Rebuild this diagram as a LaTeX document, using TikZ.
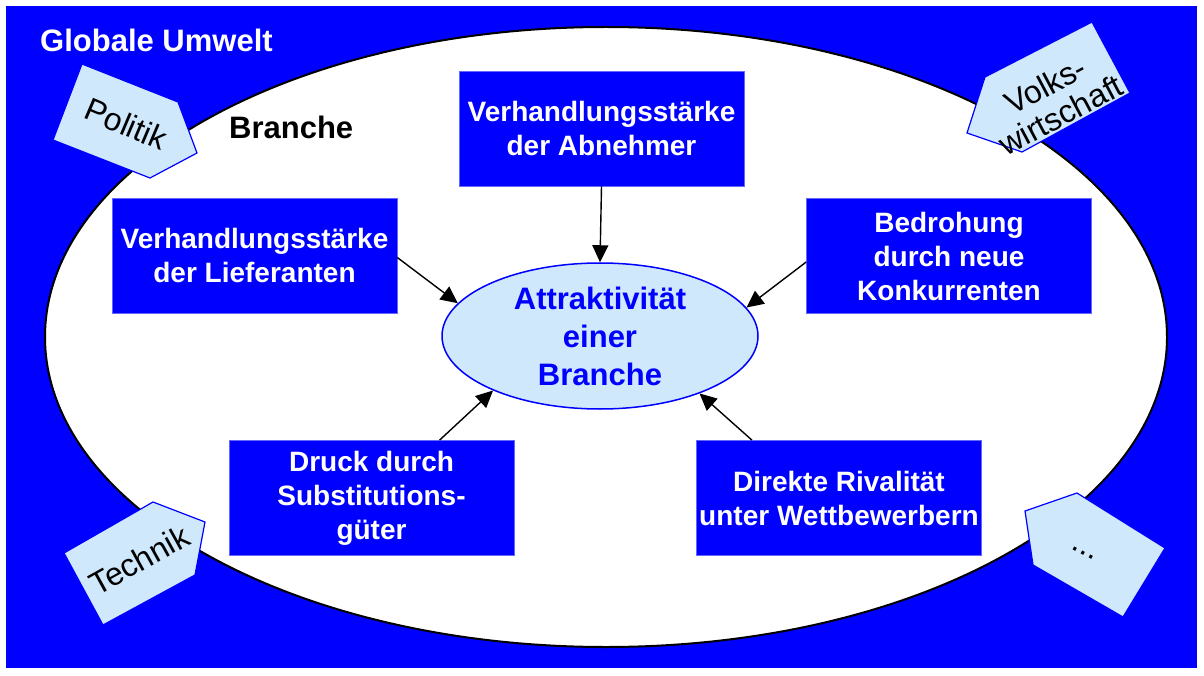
\documentclass[tikz,border=0pt]{standalone}
\usepackage{fontspec}
\setmainfont{Liberation Sans}
\usetikzlibrary{shapes.geometric,arrows.meta}

\definecolor{UmweltBlue}{RGB}{0,0,255}
\definecolor{PaleBlue}{RGB}{208,232,252}

\begin{document}
\begin{tikzpicture}[x=1pt,y=-1pt,
    force/.style={rectangle,fill=UmweltBlue,draw=UmweltBlue!60!white,line width=0.6pt,
      minimum width=285,minimum height=115,inner sep=2pt,align=center,
      text=white,font=\bfseries\fontsize{28}{34}\selectfont},
    tag/.style={fill=PaleBlue,draw=UmweltBlue,line width=1.2pt,line join=miter},
    tagtext/.style={align=center,inner sep=0pt,font=\fontsize{32}{33}\selectfont},
    push/.style={-{Triangle[length=17pt,width=16pt]},line width=1.4pt}]
  \useasboundingbox (0,0) rectangle (1204,676);
  \fill[UmweltBlue] (6,6) rectangle (1197,668);
  \filldraw[fill=white,draw=black,line width=2pt] (606,337) ellipse [x radius=561,y radius=310];

  \node[anchor=base west,inner sep=0pt,text=white,font=\bfseries\fontsize{31}{36}\selectfont] (umwelt) at (40,52) {Globale Umwelt};
  \node[anchor=base west,inner sep=0pt,font=\bfseries\fontsize{31}{36}\selectfont] (branche) at (229,139) {Branche};

  % environment tags
  \filldraw[tag] (82,64) -- (178,102) -- (197,153) -- (150,178) -- (53,140) -- cycle;
  \node[tagtext,rotate=-23] (politik) at (126,124) {Politik};
  \filldraw[tag] (1092,22) -- (1130,93) -- (1022,152) -- (967,133) -- (985,77) -- cycle;
  \node[tagtext,rotate=28] (volks) at (1053,100) {Volks-\\wirtschaft};
  \filldraw[tag] (153,502) -- (205,522) -- (195,575) -- (103,625) -- (64,553) -- cycle;
  \node[tagtext,rotate=29] (technik) at (139,560) {Technik};
  \filldraw[tag] (1025,511) -- (1077,493) -- (1165,548) -- (1123,617) -- (1033,565) -- cycle;
  \node[tagtext,rotate=-29] (etc) at (1083,553) {...};

  % five forces
  \node[ellipse,fill=PaleBlue,draw=UmweltBlue,line width=1.5pt,minimum width=316,minimum height=146,
    inner sep=0pt,align=center,text=UmweltBlue,font=\bfseries\fontsize{31}{38}\selectfont]
    (attr) at (600,336) {Attraktivität\\einer\\Branche};
  \node[force] (abn) at (601.5,128.5) {Verhandlungsstärke\\der Abnehmer};
  \node[force] (lief) at (254.5,255.5) {Verhandlungsstärke\\der Lieferanten};
  \node[force] (konk) at (949,256) {Bedrohung\\durch neue\\Konkurrenten};
  \node[force] (subst) at (371.5,498) {Druck durch\\Substitutions-\\güter};
  \node[force] (riv) at (839,498) {Direkte Rivalität\\unter Wettbewerbern};

  \draw[push] (abn.south) -- (attr.north);
  \draw[push] ([yshift=-2pt]lief.east) -- (attr.167);
  \draw[push] ([yshift=-6pt]konk.west) -- (attr.11);
  \draw[push] ([xshift=68pt]subst.north) -- (attr.207);
  \draw[push] ([xshift=-87pt]riv.north) -- (attr.330);
\end{tikzpicture}
\end{document}
